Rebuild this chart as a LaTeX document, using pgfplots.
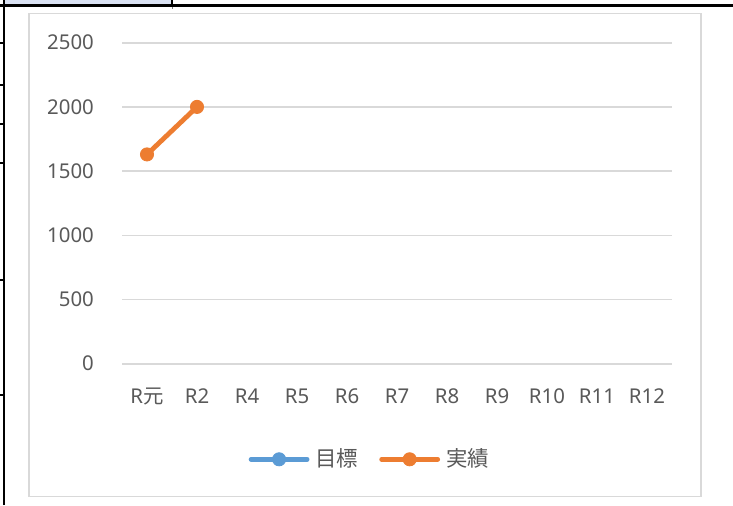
\documentclass[border=0pt]{standalone}
\usepackage{fontspec}
\setmainfont{Noto Sans}
\newfontfamily\cjk{Noto Sans CJK JP}
\usepackage{pgfplots}
\pgfplotsset{compat=1.18}
\definecolor{gridgray}{HTML}{D9D9D9}
\definecolor{labelgray}{HTML}{595959}
\definecolor{seriesblue}{HTML}{5B9BD5}
\definecolor{seriesorange}{HTML}{ED7D31}
\definecolor{cellblue}{HTML}{D9E1F2}
\begin{document}
\begin{tikzpicture}
\path[use as bounding box] (0pt,0pt) rectangle (366.5pt,252.5pt);
% worksheet cells behind the chart
\fill[cellblue] (2.5pt,250.5pt) rectangle (85.5pt,252.5pt);
\draw[black, line width=1.5pt] (0pt,249.65pt) -- (366.5pt,249.65pt);
\draw[black, line width=1.25pt] (2pt,0pt) -- (2pt,252.5pt);
\draw[black, line width=1.25pt] (86pt,249pt) -- (86pt,252.5pt);
\draw[gray, line width=0.5pt] (86pt,249pt) -- (86pt,248pt);
\foreach \yy in {231,210,190.5,171,112.5,55}
  \draw[black, line width=0.6pt] (0pt,\yy pt) -- (2pt,\yy pt);
% chart area
\draw[gridgray, fill=white, line width=0.75pt] (14.5pt,4.15pt) rectangle (350.4pt,245.75pt);
\begin{axis}[
  scale only axis, width=275pt, height=160.5pt,
  at={(61pt,70.65pt)}, anchor=south west,
  xmin=-0.5, xmax=10.5, ymin=0, ymax=2500,
  xtick={0,...,10},
  xticklabels={R{\cjk 元},R2,R4,R5,R6,R7,R8,R9,R10,R11,R12},
  ytick={0,500,...,2500},
  axis line style={draw=none}, tick style={draw=none},
  ymajorgrids, major grid style={gridgray, line width=0.8pt},
  clip=false,
  ticklabel style={font=\fontsize{10.2pt}{12pt}\selectfont, text=labelgray},
  /pgf/number format/assume math mode=true,
  /pgf/number format/1000 sep={},
  yticklabel style={anchor=east, inner sep=0pt, xshift=-13.85pt},
  xticklabel style={anchor=base, inner sep=0pt, yshift=-19.65pt},
  legend columns=2,
  legend image code/.code={\draw[mark repeat=2,mark phase=2,#1] plot coordinates {(0pt,0pt) (14pt,0pt) (28pt,0pt)};},
  legend style={at={(0.4487,-0.2978)}, anchor=center, draw=none, fill=none,
    font=\cjk\fontsize{10.7pt}{13pt}\selectfont, text=labelgray,
    inner sep=0pt, nodes={inner sep=0pt},
    /tikz/every odd column/.append style={column sep=3pt},
    /tikz/every even column/.append style={column sep=10.5pt}},
]
\addlegendimage{seriesblue, line width=2.4pt, line cap=round, mark=*, mark size=3.3pt,
  mark options={solid, fill=seriesblue, draw=seriesblue, line width=0.4pt}}
\addlegendentry{目標}
\addplot[seriesorange, line width=2.4pt, line cap=round, mark=*, mark size=3.3pt,
  mark options={solid, fill=seriesorange, draw=seriesorange, line width=0.4pt}]
  coordinates {(0,1630) (1,2000)};
\addlegendentry{実績}
\end{axis}
\end{tikzpicture}
\end{document}
